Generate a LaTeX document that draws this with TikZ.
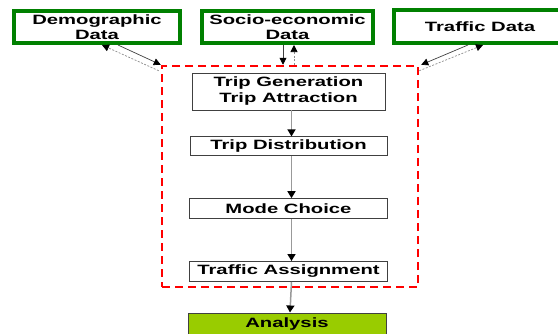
\documentclass[tikz,border=0pt]{standalone}
\usepackage{fontspec}
\setmainfont{Liberation Sans}[FakeStretch=1.5]
\usetikzlibrary{arrows.meta,positioning}

\definecolor{datagreen}{RGB}{0,128,0}
\definecolor{modelred}{RGB}{255,0,0}
\definecolor{resultgreen}{RGB}{153,204,0}

\begin{document}
\begin{tikzpicture}[x=1pt,y=-1pt,font=\fontsize{13.5}{15}\selectfont\bfseries]
        \tikzstyle{source}=[draw=datagreen,line width=4pt,align=center,inner sep=0pt]
        \tikzstyle{model}=[draw=modelred,line width=2.5pt,dash pattern=on 8pt off 5pt]
        \tikzstyle{stage}=[draw=black!75,line width=0.8pt,fill=white,inner sep=0pt,
                           minimum width=198pt,minimum height=20pt,align=center]
        \tikzstyle{flow}=[draw=black!40,line width=1.5pt,-{Triangle[black,length=7pt,width=8pt]}]
        \tikzstyle{feed}=[draw=black!75,line width=0.7pt,-{Triangle[black,length=7pt,width=7pt]}]
        \tikzstyle{back}=[draw=black!45,line width=0.7pt,dash pattern=on 2pt off 1.5pt,
                          -{Triangle[black,length=7pt,width=7pt]}]

        \useasboundingbox (0,0) rectangle (558,333);

        % data sources
        \node[source,minimum width=166pt,minimum height=32pt] (DEM) at (97,27)    {Demographic\\Data};
        \node[source,minimum width=171pt,minimum height=32pt] (SOC) at (287.5,27) {Socio-economic\\Data};
        \node[source,minimum width=172pt,minimum height=33pt] (TRA) at (480,26.5) {Traffic Data};

        % four step model
        \node[model,minimum width=256pt,minimum height=221pt] (MOD) at (290,176.5) {};
        \node[stage,minimum width=193pt,minimum height=37pt,font=\fontsize{13.5}{16}\selectfont\bfseries]
              (GEN) at (288.5,91.5) {Trip Generation\\Trip Attraction};
        \node[stage,minimum width=197pt,minimum height=19pt]  (DIS) [below=26pt of GEN] {Trip Distribution};
        \node[stage]  (MCH) [below=42pt of DIS] {Mode Choice};
        \node[stage]  (ASG) [below=42pt of MCH] {Traffic Assignment};
        \node[stage,fill=resultgreen,minimum height=24pt,anchor=north] (ANA) at (287,312.5) {\raisebox{4pt}{Analysis}};

        % main chain
        \draw[flow] ([xshift=3pt]GEN.south) -- ([xshift=3pt]DIS.north);
        \draw[flow] ([xshift=3pt]DIS.south) -- ([xshift=3pt]MCH.north);
        \draw[flow] ([xshift=3pt]MCH.south) -- ([xshift=3pt]ASG.north);
        \draw[flow] ([xshift=3pt]ASG.south) -- ([xshift=3pt]ANA.north);

        % inputs and feedback
        \coordinate (s1) at ([xshift=-4.5pt]SOC.south);
        \coordinate (s2) at ([xshift=6.5pt]SOC.south);
        \draw[feed] ([xshift=21pt]DEM.south) -- (MOD.north west);
        \draw[back] ([shift={(-2pt,-6pt)}]MOD.north west) -- ([xshift=5pt]DEM.south);
        \draw[feed] (s1) -- (s1 |- MOD.north);
        \draw[back] (s2 |- MOD.north) -- (s2);
        \draw[feed] ([xshift=-12pt]TRA.south) -- ([xshift=2pt]MOD.north east);
        \draw[back] ([yshift=-6pt]MOD.north east) -- ([xshift=3pt]TRA.south);
\end{tikzpicture}
\end{document}
